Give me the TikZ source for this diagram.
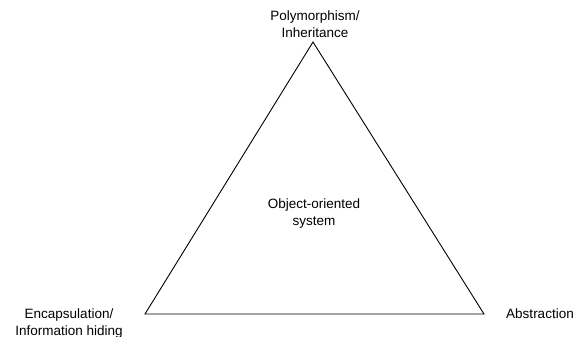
\documentclass[tikz,border=0pt]{standalone}
\usepackage{fontspec}
\setmainfont{Liberation Sans}
\begin{document}
\begin{tikzpicture}[x=1pt,y=-1pt,
  lbl/.style={align=center,font=\fontsize{13.5}{17}\selectfont,inner sep=0pt},
  edge/.style={draw=black,line width=0.9pt,line join=miter}]
  \useasboundingbox (0,0) rectangle (576,337);
  % triangle corners
  \coordinate (top) at (313,42);
  \coordinate (left) at (145,314);
  \coordinate (right) at (484,314);
  \draw[edge] (top) -- (left) -- (right) -- cycle;
  % labels
  \node[lbl] (poly) at (315,24.5) {Polymorphism/\\Inheritance};
  \node[lbl] (oos) at (314,214) {Object-oriented\\system};
  \node[lbl] (enc) at (69,323.5) {Encapsulation/\\Information hiding};
  \node[lbl] (abs) at (540,314) {Abstraction};
\end{tikzpicture}
\end{document}
